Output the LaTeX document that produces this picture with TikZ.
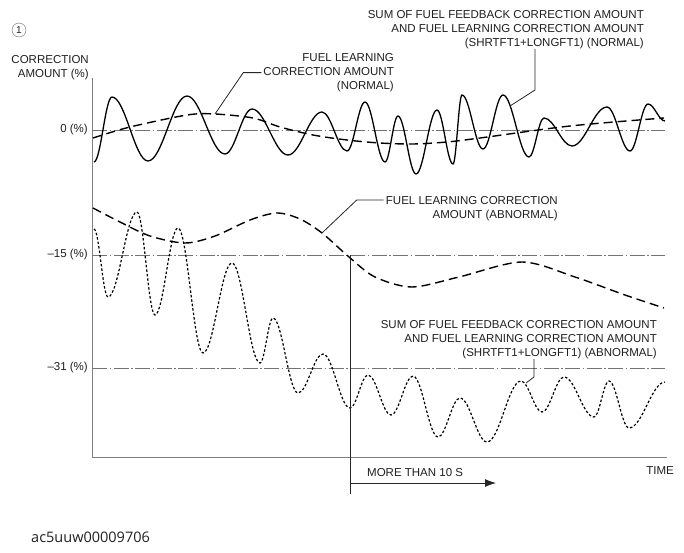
\documentclass[tikz,border=0pt]{standalone}
\usepackage{fontspec}
\setmainfont{Liberation Sans}
\newfontfamily\codefont{Open Sans}
\usetikzlibrary{arrows.meta}

\begin{document}
\begin{tikzpicture}
	[x=1pt, y=-1pt,
	 every node/.style={inner sep=0pt,text=black!88,font=\fontsize{11.5}{14.2}\selectfont},
	 axis/.style={draw=black!50,line width=0.9pt},
	 refline/.style={draw=black!55,line width=0.8pt,dash pattern=on 15pt off 2.5pt on 1.5pt off 2.5pt},
	 lead/.style={draw=black!85,line width=0.8pt},
	 sumnorm/.style={black,line width=1.3pt},
	 learnline/.style={black,line width=1.4pt,dash pattern=on 9pt off 5pt},
	 sumabn/.style={black,line width=1.2pt,dash pattern=on 2.5pt off 2pt},
	 lbl/.style={align=right,anchor=north east} ]

\useasboundingbox (0,0) rectangle (684,552);

% labels
\node [draw=black!60,circle,minimum size=14pt,font=\fontsize{10}{12}\selectfont] (num) at (19,30) {1};
\node [lbl] (ylabel) at (89,55) {CORRECTION\\AMOUNT (\%)};
\node [anchor=east] (zero) at (88,130) {0 (\%)};
\node [anchor=east] (fifteen) at (88,255) {--15 (\%)};
\node [anchor=east] (thirtyone) at (88,368) {--31 (\%)};
\node [lbl] (sumN) at (644,10) {SUM OF FUEL FEEDBACK CORRECTION AMOUNT\\AND FUEL LEARNING CORRECTION AMOUNT\\(SHRTFT1+LONGFT1) (NORMAL)};
\node [lbl] (learnN) at (394,53) {FUEL LEARNING\\CORRECTION AMOUNT\\(NORMAL)};
\node [lbl] (learnA) at (558,196) {FUEL LEARNING CORRECTION\\AMOUNT (ABNORMAL)};
\node [lbl] (sumA) at (657,320) {SUM OF FUEL FEEDBACK CORRECTION AMOUNT\\AND FUEL LEARNING CORRECTION AMOUNT\\(SHRTFT1+LONGFT1) (ABNORMAL)};
\node [anchor=east] (time) at (674,471) {TIME};
\node [anchor=west] (more) at (367,473) {MORE THAN 10 S};
\node [anchor=west,font=\codefont\fontsize{14.5}{16}\selectfont] (code) at (31,537) {ac5uuw00009706};

% axes and levels
\coordinate (ytop) at (92,78);
\coordinate (origin) at (92,457);
\coordinate (xend) at (667,457);
\draw[axis] (ytop) -- (origin) -- (xend);
\foreach \y in {130,255,368}
  \draw[refline] (92,\y) -- (665,\y);

% normal
\draw[learnline] plot[smooth] coordinates {(93,138) (130,127) (187,115) (215,114) (253,118) (280,127) (313,135) (347,140) (380,143) (413,144) (447,142) (480,138) (570,126) (664,118)};
\draw[sumnorm] (94,162) foreach \x/\y [remember=\x as \lx (initially 94), remember=\y as \ly (initially 162)] in
  {112/97,148/161,187/96,225/154,252/109,288/155,322/112,347/151,365/102,385/162,398/116,416/174,437/110,453/164,
   462/95,483/149,503/95,529/157,544/118,572/146,607/107,630/151,648/104,665/121}
  { .. controls ({\lx+0.37*(\x-\lx)},\ly) and ({\x-0.37*(\x-\lx)},\y) .. (\x,\y) };

% abnormal
\draw[learnline] plot[smooth] coordinates {(93,208) (120,222) (150,236) (185,243) (215,236) (250,220) (277,213) (300,219) (322,233) (349,257) (375,277) (412,287) (459,277) (522,262) (575,277) (625,295) (664,308)};
\draw[sumabn] (94,229) foreach \x/\y [remember=\x as \lx (initially 94), remember=\y as \ly (initially 229)] in
  {108/297,137/212,155/315,178/228,203/353,232/263,260/363,273/318,298/393,323/354,350/408,368/375,391/415,413/376,
   438/437,460/398,487/442,521/381,542/412,564/377,594/417,609/381,629/428,665/382}
  { .. controls ({\lx+0.37*(\x-\lx)},\ly) and ({\x-0.37*(\x-\lx)},\y) .. (\x,\y) };

% leaders
\coordinate (ln) at (215,114);
\draw[lead] (ln) -- ([xshift=-20pt]learnN.west) -- ([xshift=-2pt]learnN.west);
\coordinate (sn) at (510,106);
\coordinate (snk) at (535,90);
\draw[lead] (sn) -- (snk) -- (snk |- sumN.south);
\coordinate (la) at (322,233);
\draw[lead] (la) -- ([shift={(-29pt,-4pt)}]learnA.north west) -- ([shift={(-2pt,-4pt)}]learnA.north west);
\coordinate (sa) at (526,383);
\coordinate (sak) at (534,377);
\draw[lead] (sa) -- (sak) -- (sak |- sumA.south);

% time mark
\coordinate (vtop) at (350,255);
\coordinate (vbot) at (350,494);
\draw[lead] (vtop) -- (vbot);
\coordinate (astart) at (350,483);
\coordinate (aend) at (496,483);
\draw[lead,-{Latex[length=11pt,width=8pt]}] (astart) -- (aend);

\end{tikzpicture}
\end{document}
